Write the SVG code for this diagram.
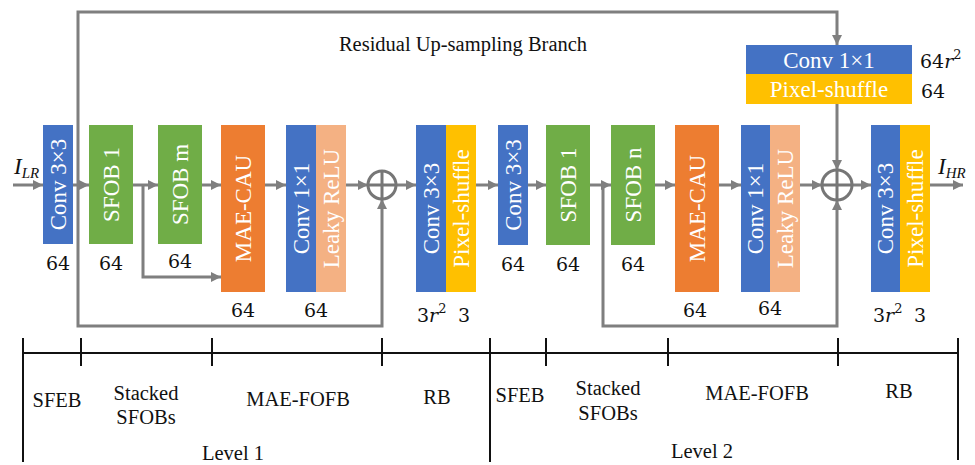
<svg xmlns="http://www.w3.org/2000/svg" width="975" height="465" viewBox="0 0 975 465">
  <defs>
    <marker id="arrow" markerUnits="userSpaceOnUse" markerWidth="10" markerHeight="10" refX="10" refY="5" orient="auto">
      <path d="M0,0 L10,5 L0,10 z" fill="#7f7f7f"/>
    </marker>
    <style>
      .blue { fill: #4472c4; }
      .green { fill: #70ad47; }
      .orange { fill: #ed7d31; }
      .peach { fill: #f4b183; }
      .yellow { fill: #ffc000; }
      .lbl { font-family: "Liberation Serif", "Times New Roman", serif; font-size: 23px; fill: #ffffff; text-anchor: middle; dominant-baseline: central; }
      .num { font-family: "DejaVu Serif", "Liberation Serif", serif; font-size: 19px; fill: #111111; text-anchor: middle; }
      .num.left { text-anchor: start; }
      .cap { font-family: "Liberation Serif", "Times New Roman", serif; font-size: 20.5px; fill: #111111; text-anchor: middle; }
      .conn { fill: none; stroke: #7f7f7f; stroke-width: 3; }
      .arr { marker-end: url(#arrow); }
      .sum { fill: none; stroke: #767676; stroke-width: 3; }
      .ruler { fill: none; stroke: #111111; stroke-width: 2; }
    </style>
  </defs>
  <rect width="975" height="465" fill="#ffffff"/>

  <!-- connectors -->
  <g id="connectors">
    <line class="conn arr" x1="13" y1="185" x2="43" y2="185"/>
    <line class="conn arr" x1="73" y1="185" x2="89" y2="185"/>
    <line class="conn arr" x1="133" y1="185" x2="158" y2="185"/>
    <path class="conn arr" d="M143,185 V277 H221"/>
    <line class="conn arr" x1="202" y1="185" x2="221" y2="185"/>
    <line class="conn arr" x1="265" y1="185" x2="286" y2="185"/>
    <line class="conn arr" x1="346" y1="185" x2="368" y2="185"/>
    <!-- residual up-sampling branch -->
    <path class="conn arr" d="M78,185 V12 H837 V45"/>
    <!-- level 1 global skip -->
    <path class="conn arr" d="M78,185 V326 H382 V199"/>
    <line class="conn arr" x1="396" y1="185" x2="416" y2="185"/>
    <line class="conn arr" x1="476" y1="185" x2="498" y2="185"/>
    <line class="conn arr" x1="528" y1="185" x2="546" y2="185"/>
    <line class="conn arr" x1="590" y1="185" x2="611" y2="185"/>
    <!-- level 2 skip -->
    <path class="conn arr" d="M603,185 V326 H837 V200"/>
    <line class="conn arr" x1="655" y1="185" x2="675" y2="185"/>
    <line class="conn arr" x1="719" y1="185" x2="741" y2="185"/>
    <line class="conn arr" x1="800" y1="185" x2="822" y2="185"/>
    <line class="conn arr" x1="837" y1="104" x2="837" y2="170"/>
    <line class="conn arr" x1="852" y1="185" x2="871" y2="185"/>
    <line class="conn arr" x1="930" y1="185" x2="963" y2="185"/>
  </g>

  <!-- input / output labels -->
  <g id="input">
    <text x="14" y="174" font-family="Liberation Serif, serif" font-size="23" font-style="italic" fill="#111">I<tspan font-size="15" dy="4">LR</tspan></text>
  </g>
  <g id="output">
    <text x="938" y="174" font-family="Liberation Serif, serif" font-size="23" font-style="italic" fill="#111">I<tspan font-size="15" dy="4">HR</tspan></text>
  </g>

  <text class="cap" x="463" y="51">Residual Up-sampling Branch</text>

  <!-- level 1 -->
  <g id="conv3x3-l1">
    <rect class="blue" x="43" y="125" width="30" height="119"/>
    <text class="lbl" transform="translate(58,184.5) rotate(-90)">Conv 3×3</text>
    <text class="num" x="58" y="270">64</text>
  </g>
  <g id="sfob1-l1">
    <rect class="green" x="89" y="125" width="44" height="119"/>
    <text class="lbl" transform="translate(111,184.5) rotate(-90)">SFOB 1</text>
    <text class="num" x="111" y="270">64</text>
  </g>
  <g id="sfobm-l1">
    <rect class="green" x="158" y="125" width="44" height="119"/>
    <text class="lbl" transform="translate(180,184.5) rotate(-90)">SFOB m</text>
    <text class="num" x="180" y="268">64</text>
  </g>
  <g id="maecau-l1">
    <rect class="orange" x="221" y="125" width="44" height="167"/>
    <text class="lbl" transform="translate(243,208.5) rotate(-90)">MAE-CAU</text>
    <text class="num" x="243" y="317">64</text>
  </g>
  <g id="conv1x1-l1">
    <rect class="blue" x="286" y="125" width="30" height="167"/>
    <rect class="peach" x="316" y="125" width="30" height="167"/>
    <text class="lbl" transform="translate(301,208.5) rotate(-90)">Conv 1×1</text>
    <text class="lbl" transform="translate(331,208.5) rotate(-90)">Leaky ReLU</text>
    <text class="num" x="316" y="317">64</text>
  </g>
  <g id="sum-l1">
    <circle class="sum" cx="382" cy="185" r="14"/>
    <path class="sum" d="M368,185 H396 M382,171 V199"/>
  </g>
  <g id="rb-l1">
    <rect class="blue" x="416" y="125" width="30" height="167"/>
    <rect class="yellow" x="446" y="125" width="30" height="167"/>
    <text class="lbl" transform="translate(431,208.5) rotate(-90)">Conv 3×3</text>
    <text class="lbl" transform="translate(461,208.5) rotate(-90)">Pixel-shuffle</text>
    <text class="num left" x="417" y="322">3<tspan font-style="italic">r</tspan><tspan font-size="13" dy="-9">2</tspan></text>
    <text class="num left" x="458" y="322">3</text>
  </g>

  <!-- residual up-sampling branch -->
  <g id="upsample">
    <rect class="blue" x="746" y="45" width="166" height="29"/>
    <rect class="yellow" x="746" y="74" width="166" height="30"/>
    <text class="lbl" x="829" y="60">Conv 1×1</text>
    <text class="lbl" x="829" y="89">Pixel-shuffle</text>
    <text class="num left" x="920" y="68">64<tspan font-style="italic">r</tspan><tspan font-size="13" dy="-9">2</tspan></text>
    <text class="num left" x="921" y="98">64</text>
  </g>

  <!-- level 2 -->
  <g id="conv3x3-l2">
    <rect class="blue" x="498" y="125" width="30" height="120"/>
    <text class="lbl" transform="translate(513,185) rotate(-90)">Conv 3×3</text>
    <text class="num" x="513" y="271">64</text>
  </g>
  <g id="sfob1-l2">
    <rect class="green" x="546" y="125" width="44" height="120"/>
    <text class="lbl" transform="translate(568,185) rotate(-90)">SFOB 1</text>
    <text class="num" x="568" y="271">64</text>
  </g>
  <g id="sfobn-l2">
    <rect class="green" x="611" y="125" width="44" height="120"/>
    <text class="lbl" transform="translate(633,185) rotate(-90)">SFOB n</text>
    <text class="num" x="633" y="271">64</text>
  </g>
  <g id="maecau-l2">
    <rect class="orange" x="675" y="125" width="44" height="167"/>
    <text class="lbl" transform="translate(697,208.5) rotate(-90)">MAE-CAU</text>
    <text class="num" x="695" y="317">64</text>
  </g>
  <g id="conv1x1-l2">
    <rect class="blue" x="741" y="125" width="29" height="167"/>
    <rect class="peach" x="770" y="125" width="30" height="167"/>
    <text class="lbl" transform="translate(755.5,208.5) rotate(-90)">Conv 1×1</text>
    <text class="lbl" transform="translate(785,208.5) rotate(-90)">Leaky ReLU</text>
    <text class="num" x="770" y="315">64</text>
  </g>
  <g id="sum-l2">
    <circle class="sum" cx="837" cy="185" r="15"/>
    <path class="sum" d="M822,185 H852 M837,170 V200"/>
  </g>
  <g id="rb-l2">
    <rect class="blue" x="871" y="125" width="29" height="167"/>
    <rect class="yellow" x="900" y="125" width="30" height="167"/>
    <text class="lbl" transform="translate(885.5,208.5) rotate(-90)">Conv 3×3</text>
    <text class="lbl" transform="translate(915,208.5) rotate(-90)">Pixel-shuffle</text>
    <text class="num left" x="873" y="322">3<tspan font-style="italic">r</tspan><tspan font-size="13" dy="-9">2</tspan></text>
    <text class="num left" x="914" y="322">3</text>
  </g>

  <!-- stage ruler -->
  <g id="ruler">
    <path class="ruler" d="M23,353 H958 M23,338 V462 M490,338 V462 M958,338 V460 M81,338 V366 M212,338 V366 M382,338 V366 M546,338 V366 M668,338 V366 M838,338 V366"/>
    <text class="cap" x="57" y="407">SFEB</text>
    <text class="cap" x="146" y="400">Stacked</text>
    <text class="cap" x="146" y="424">SFOBs</text>
    <text class="cap" x="298" y="406">MAE-FOFB</text>
    <text class="cap" x="437" y="404">RB</text>
    <text class="cap" x="233" y="460">Level 1</text>
    <text class="cap" x="520" y="402">SFEB</text>
    <text class="cap" x="608" y="395">Stacked</text>
    <text class="cap" x="608" y="420">SFOBs</text>
    <text class="cap" x="757" y="400">MAE-FOFB</text>
    <text class="cap" x="899" y="398">RB</text>
    <text class="cap" x="702" y="458">Level 2</text>
  </g>
</svg>
